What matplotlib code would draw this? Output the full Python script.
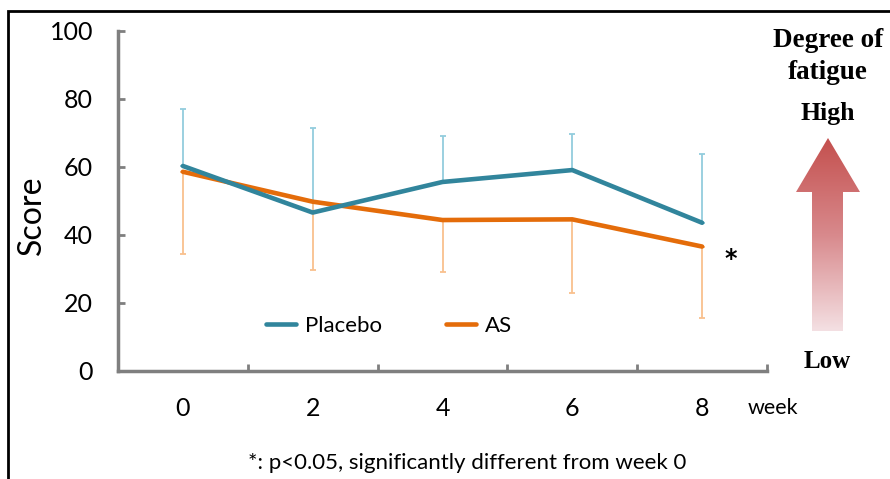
import numpy as np
import matplotlib
matplotlib.use("Agg")
import matplotlib.pyplot as plt
from matplotlib.patches import Polygon
from matplotlib.colors import LinearSegmentedColormap

plt.rcParams["font.family"] = ["Lato", "DejaVu Sans"]

# ── Datos ──────────────────────────────────────────────────────────────────────
weeks       = ["0", "2", "4", "6", "8"]
placebo     = [60.3, 46.6, 55.6, 59.1, 43.6]
placebo_sd  = [16.9, 24.8, 13.5, 10.6, 20.2]
as_mean     = [58.6, 49.8, 44.4, 44.6, 36.6]
as_sd       = [24.2, 20.1, 15.2, 21.6, 21.1]
y_ticks     = [0, 20, 40, 60, 80, 100]

C_PLA = "#31859C"
C_AS  = "#E46C0A"
C_PLA_ERR = "#93CDDD"
C_AS_ERR  = "#F9C08E"
GREY = "#7F7F7F"

W, H = 890, 479
fig = plt.figure(figsize=(W / 100, H / 100), dpi=100)
ax = fig.add_axes([118 / W, 1 - 371 / H, 649 / W, 340 / H])

x = np.arange(len(weeks))
zeros = np.zeros(len(weeks))

ax.errorbar(x, placebo, yerr=[zeros, placebo_sd], fmt="none",
            ecolor=C_PLA_ERR, elinewidth=1.3, capsize=2, capthick=1.3, zorder=2)
ax.errorbar(x, as_mean, yerr=[as_sd, zeros], fmt="none",
            ecolor=C_AS_ERR, elinewidth=1.3, capsize=2, capthick=1.3, zorder=2)

ax.plot(x, placebo, color=C_PLA, linewidth=3.3, label="Placebo", zorder=4,
        solid_capstyle="round")
ax.plot(x, as_mean, color=C_AS, linewidth=3.3, label="AS", zorder=3,
        solid_capstyle="round")

ax.set_xlim(-0.5, len(weeks) - 0.5)
ax.set_ylim(0, 100)
ax.set_yticks(y_ticks)
ax.set_xticks(np.arange(-0.5, len(weeks), 1.0))
ax.set_xticklabels([])
ax.set_xticks(x, minor=True)
ax.set_xticklabels(weeks, minor=True)

ax.tick_params(axis="both", which="major", direction="in", length=5,
               width=2, color=GREY, labelsize=18)
ax.tick_params(axis="x", which="minor", length=0, pad=19, labelsize=18)
ax.tick_params(axis="y", pad=18)
for s in ["top", "right"]:
    ax.spines[s].set_visible(False)
for s in ["left", "bottom"]:
    ax.spines[s].set_color(GREY)
    ax.spines[s].set_linewidth(2.5)

ax.text(-0.133, 0.459, "Score", transform=ax.transAxes, rotation=90,
        fontsize=23, ha="center", va="center")

ax.legend(loc="center left", bbox_to_anchor=(0.228, 0.132), ncol=2,
          frameon=False, fontsize=16, handlelength=1.35, handletextpad=0.4,
          columnspacing=2.9, borderpad=0, borderaxespad=0)

ax.text(4.22, 33.8, "*", fontsize=17, fontweight="bold", family="DejaVu Sans",
        ha="center", va="center_baseline")

# ── Overlay: marco, flecha y textos ───────────────────────────────────────────
ov = fig.add_axes([0, 0, 1, 1], facecolor="none")
ov.set_xlim(0, W)
ov.set_ylim(H, 0)
ov.axis("off")

ov.plot([8, 8, W], [H, 11, 11], color="black", linewidth=2, solid_joinstyle="miter")

pts = [(828, 138), (860, 192), (843, 192), (843, 331),
       (812, 331), (812, 192), (796, 192)]
poly = Polygon(pts, closed=True, facecolor="none", edgecolor="none")
ov.add_patch(poly)
cmap = LinearSegmentedColormap.from_list("fat", ["#C4504E", "#D8898C", "#F4E0E3"])
grad = np.linspace(0, 1, 256).reshape(-1, 1)
im = ov.imshow(grad, cmap=cmap, extent=(796, 860, 331, 138), aspect="auto",
               interpolation="bilinear", zorder=2)
im.set_clip_path(poly)

serif = ["Liberation Serif", "DejaVu Serif"]
ov.text(828, 40, "Degree of", family=serif, fontsize=19.5, fontweight="bold",
        ha="center", va="center")
ov.text(828, 72, "fatigue", family=serif, fontsize=19.5, fontweight="bold",
        ha="center", va="center")
ov.text(828, 113, "High", family=serif, fontsize=18.5, fontweight="bold",
        ha="center", va="center")
ov.text(827, 362, "Low", family=serif, fontsize=18, fontweight="bold",
        ha="center", va="center")

ov.text(748, 408, "week", fontsize=15.5, ha="left", va="center")
ov.text(467, 463, "*: p<0.05, significantly different from week 0", fontsize=16,
        ha="center", va="center")

fig.savefig("out.png", dpi=100)
plt.close(fig)
